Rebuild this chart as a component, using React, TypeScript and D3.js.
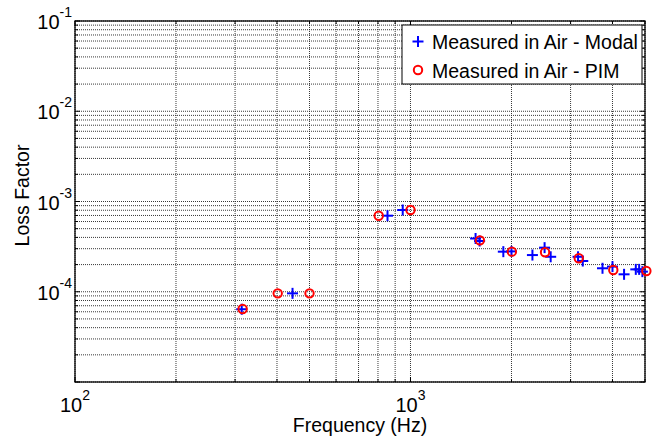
import React from 'react';
import * as d3 from 'd3';

// Measured in Air - Modal
const modalFreq = [314, 445, 854, 948, 1563, 1607, 1891, 2000, 2309, 2510, 2617, 3158, 3262, 3735, 4000, 4331, 4694, 4803, 4911];
const modalLoss = [6.4e-5, 9.6e-5, 6.96e-4, 8.05e-4, 3.89e-4, 3.65e-4, 2.78e-4, 2.8e-4, 2.55e-4, 3.08e-4, 2.44e-4, 2.44e-4, 2.19e-4, 1.82e-4, 1.9e-4, 1.56e-4, 1.77e-4, 1.77e-4, 1.67e-4];

// Measured in Air - PIM
const pimFreq = [316, 402, 500, 804, 1000, 1610, 2005, 2518, 3173, 4022, 5047];
const pimLoss = [6.44e-5, 9.6e-5, 9.6e-5, 6.96e-4, 8.05e-4, 3.71e-4, 2.78e-4, 2.74e-4, 2.35e-4, 1.74e-4, 1.7e-4];

const xLabelExps = [2, 3];
const yLabelExps = [-1, -2, -3, -4];
const legendLabels = ['Measured in Air - Modal', 'Measured in Air - PIM'];

const FONT = "'Liberation Sans', Arial, sans-serif";

const App: React.FC = () => {
  const svgRef = React.useRef<SVGSVGElement>(null);
  const width = 652;
  const height = 442;

  React.useEffect(() => {
    if (!svgRef.current) return;
    const svg = d3.select(svgRef.current);
    svg.selectAll('*').remove();

    const margin = { top: 21, right: 7, bottom: 60, left: 75 };
    const x0 = margin.left;
    const x1 = width - margin.right;
    const y0 = margin.top;
    const y1 = height - margin.bottom;

    const xScale = d3.scaleLog().domain([100, 5000]).range([x0, x1]);
    const yScale = d3.scaleLog().domain([1e-5, 1e-1]).range([y1, y0]);

    // background
    svg.append('rect')
      .attr('x', x0).attr('y', y0)
      .attr('width', x1 - x0).attr('height', y1 - y0)
      .attr('fill', '#fff');

    const grid = svg.append('g')
      .attr('stroke', '#222')
      .attr('stroke-width', 0.9)
      .attr('stroke-dasharray', '1,1');

    // 세로 격자
    xScale.ticks().forEach(t => {
      grid.append('line')
        .attr('x1', xScale(t)).attr('x2', xScale(t))
        .attr('y1', y0).attr('y2', y1);
    });
    // 가로 격자
    yScale.ticks().forEach(t => {
      grid.append('line')
        .attr('x1', x0).attr('x2', x1)
        .attr('y1', yScale(t)).attr('y2', yScale(t));
    });

    // inward ticks
    const ticks = svg.append('g').attr('stroke', '#000').attr('stroke-width', 1);
    xScale.ticks().forEach(t => {
      const major = Math.abs(Math.log10(t) % 1) < 1e-9;
      const len = major ? 5 : 3;
      const xp = xScale(t);
      ticks.append('line').attr('x1', xp).attr('x2', xp).attr('y1', y1).attr('y2', y1 - len);
      ticks.append('line').attr('x1', xp).attr('x2', xp).attr('y1', y0).attr('y2', y0 + len);
    });
    yScale.ticks().forEach(t => {
      const major = Math.abs(Math.log10(t) - Math.round(Math.log10(t))) < 1e-9;
      const len = major ? 5 : 3;
      const yp = yScale(t);
      ticks.append('line').attr('x1', x0).attr('x2', x0 + len).attr('y1', yp).attr('y2', yp);
      ticks.append('line').attr('x1', x1).attr('x2', x1 - len).attr('y1', yp).attr('y2', yp);
    });

    // 축 테두리
    svg.append('rect')
      .attr('x', x0).attr('y', y0)
      .attr('width', x1 - x0).attr('height', y1 - y0)
      .attr('fill', 'none')
      .attr('stroke', '#000')
      .attr('stroke-width', 1.3);

    // x tick labels
    xLabelExps.forEach(e => {
      const t = svg.append('text')
        .attr('x', xScale(Math.pow(10, e)))
        .attr('y', y1 + 30)
        .attr('text-anchor', 'middle')
        .attr('font-family', FONT)
        .attr('font-size', 20)
        .attr('fill', '#000');
      t.append('tspan').text('10');
      t.append('tspan').attr('font-size', 14).attr('dy', -12).text(String(e));
    });

    // y tick labels
    yLabelExps.forEach(e => {
      const t = svg.append('text')
        .attr('x', x0 - 3)
        .attr('y', yScale(Math.pow(10, e)) + 8)
        .attr('text-anchor', 'end')
        .attr('font-family', FONT)
        .attr('font-size', 20)
        .attr('fill', '#000');
      t.append('tspan').text('10');
      t.append('tspan').attr('font-size', 14).attr('dy', -12).text(String(e));
    });

    // axis titles
    svg.append('text')
      .attr('x', (x0 + x1) / 2)
      .attr('y', 432)
      .attr('text-anchor', 'middle')
      .attr('font-family', FONT)
      .attr('font-size', 19.5)
      .attr('fill', '#000')
      .text('Frequency (Hz)');

    svg.append('text')
      .attr('transform', `translate(29,${(y0 + y1) / 2 - 6}) rotate(-90)`)
      .attr('text-anchor', 'middle')
      .attr('font-family', FONT)
      .attr('font-size', 19.5)
      .attr('fill', '#000')
      .text('Loss Factor');

    const plus = (g: d3.Selection<SVGGElement, unknown, null, undefined>, cx: number, cy: number, r: number) => {
      g.append('line').attr('x1', cx - r).attr('x2', cx + r).attr('y1', cy).attr('y2', cy);
      g.append('line').attr('x1', cx).attr('x2', cx).attr('y1', cy - r).attr('y2', cy + r);
    };

    // Modal (+)
    const gModal = svg.append('g').attr('stroke', '#0000ff').attr('stroke-width', 2);
    modalFreq.forEach((f, i) => plus(gModal, xScale(f), yScale(modalLoss[i]), 5.5));

    // PIM (o)
    svg.append('g')
      .selectAll('circle')
      .data(pimFreq.map((f, i) => ({ f, v: pimLoss[i] })))
      .enter().append('circle')
      .attr('cx', d => xScale(d.f))
      .attr('cy', d => yScale(d.v))
      .attr('r', 4.2)
      .attr('fill', 'none')
      .attr('stroke', '#ff0000')
      .attr('stroke-width', 2);

    // 범례
    const lg = svg.append('g');
    lg.append('rect')
      .attr('x', 402).attr('y', 25)
      .attr('width', 240).attr('height', 59)
      .attr('fill', '#fff')
      .attr('stroke', '#000')
      .attr('stroke-width', 1);
    const lgPlus = lg.append('g').attr('stroke', '#0000ff').attr('stroke-width', 2);
    plus(lgPlus, 418, 41.5, 5.5);
    lg.append('circle')
      .attr('cx', 418).attr('cy', 70)
      .attr('r', 4.2)
      .attr('fill', 'none')
      .attr('stroke', '#ff0000')
      .attr('stroke-width', 2);
    legendLabels.forEach((label, i) => {
      lg.append('text')
        .attr('x', 432)
        .attr('y', 49 + i * 28.5)
        .attr('font-family', FONT)
        .attr('font-size', 19.5)
        .attr('fill', '#000')
        .text(label);
    });
  }, []);

  return (
    <svg
      ref={svgRef}
      width={width}
      height={height}
      style={{ position: 'absolute', left: 0, top: 0, background: '#fff' }}
    />
  );
};

export default App;
